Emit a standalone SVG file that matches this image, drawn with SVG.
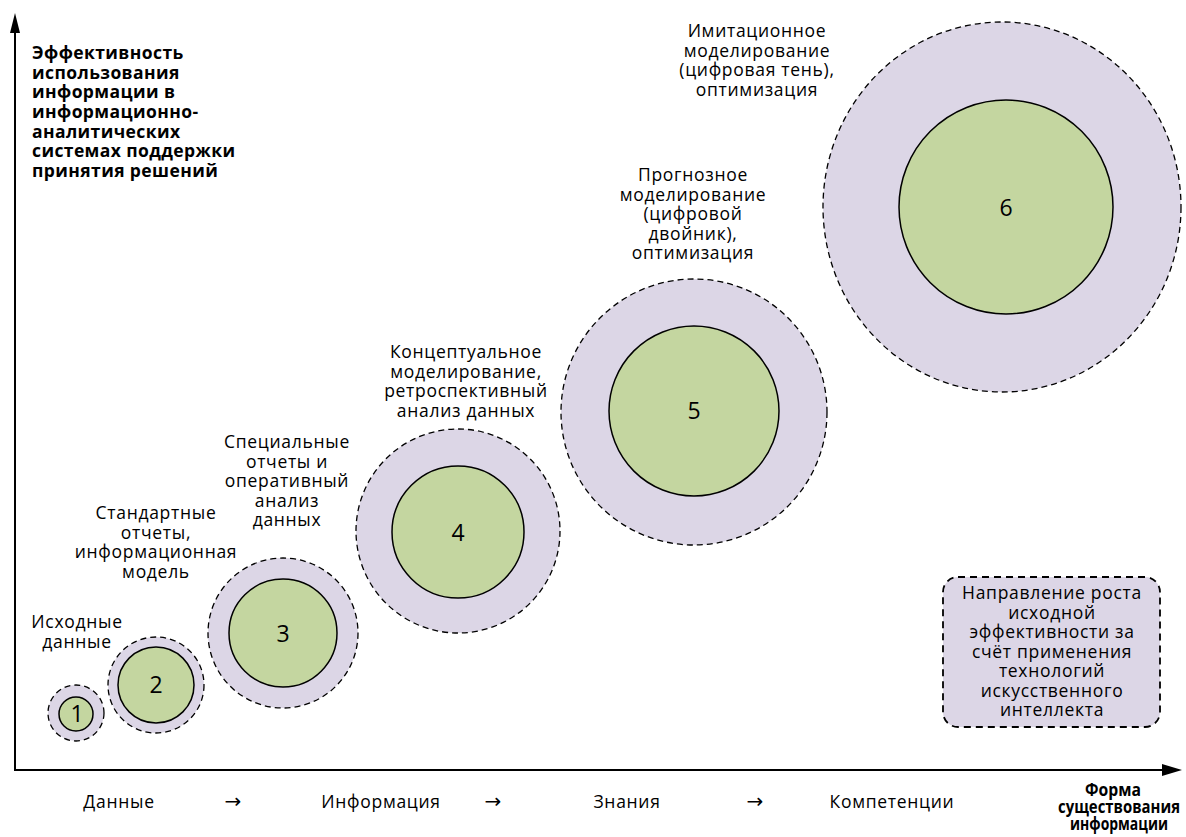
<svg xmlns="http://www.w3.org/2000/svg" width="1186" height="837" viewBox="0 0 1186 837">
<style>
text{font-family:"Open Sans","Noto Sans",sans-serif;fill:#000}
.t{font-size:17.5px;letter-spacing:0.7px;text-anchor:middle}
.b{font-size:17.5px;font-weight:bold;letter-spacing:0.4px}
.n{font-size:23px;text-anchor:middle}
.arr text{font-family:"DejaVu Sans",sans-serif;font-size:20px;text-anchor:middle}
.outer{fill:#DCD6E6;stroke:#000;stroke-width:1.3;stroke-dasharray:6 4}
.inner{fill:#C4D6A0;stroke:#000;stroke-width:1.5}
.axis{stroke:#000;stroke-width:2;fill:none}
</style>
<rect width="1186" height="837" fill="#fff"/>
<g id="axes">
<line class="axis" x1="15" y1="771" x2="15" y2="30"/>
<polygon points="15,13 10,33 20,33" fill="#000"/>
<line class="axis" x1="14" y1="770" x2="1166" y2="770"/>
<polygon points="1182,770 1162,764 1162,776" fill="#000"/>
</g>
<g id="y-label" class="b">
<text x="32" y="59">Эффективность</text>
<text x="32" y="79">использования</text>
<text x="32" y="98">информации в</text>
<text x="32" y="118">информационно-</text>
<text x="32" y="138">аналитических</text>
<text x="32" y="157">системах поддержки</text>
<text x="32" y="177">принятия решений</text>
</g>
<g id="x-categories">
<g class="t">
<text x="119" y="808">Данные</text>
<text x="381" y="808">Информация</text>
<text x="627" y="808">Знания</text>
<text x="892" y="808">Компетенции</text>
</g>
<g class="arr">
<text x="233" y="808">→</text>
<text x="493" y="808">→</text>
<text x="755" y="808">→</text>
</g>
</g>
<g id="x-label" font-size="17px" font-weight="bold" text-anchor="middle">
<text x="1113" y="796" textLength="56" lengthAdjust="spacingAndGlyphs">Форма</text>
<text x="1119" y="813" textLength="122" lengthAdjust="spacingAndGlyphs">существования</text>
<text x="1119" y="830" textLength="98" lengthAdjust="spacingAndGlyphs">информации</text>
</g>
<g id="node1">
<circle class="outer" cx="76" cy="713" r="28"/>
<circle class="inner" cx="76" cy="714" r="17"/>
<text class="n" x="77" y="722">1</text>
<g class="t"><text x="77" y="628">Исходные</text><text x="77" y="647.5">данные</text></g>
</g>
<g id="node2">
<circle class="outer" cx="156" cy="685" r="48"/>
<circle class="inner" cx="156" cy="685" r="38"/>
<text class="n" x="156" y="693">2</text>
<g class="t"><text x="156" y="519">Стандартные</text><text x="156" y="538.5">отчеты,</text><text x="156" y="558">информационная</text><text x="156" y="577.5">модель</text></g>
</g>
<g id="node3">
<circle class="outer" cx="283" cy="633" r="75"/>
<circle class="inner" cx="283" cy="633" r="54"/>
<text class="n" x="283" y="642">3</text>
<g class="t"><text x="287" y="448">Специальные</text><text x="287" y="467.5">отчеты и</text><text x="287" y="487">оперативный</text><text x="287" y="506.5">анализ</text><text x="287" y="526">данных</text></g>
</g>
<g id="node4">
<circle class="outer" cx="458" cy="531" r="102"/>
<circle class="inner" cx="458" cy="532" r="66"/>
<text class="n" x="458" y="541">4</text>
<g class="t"><text x="466" y="358">Концептуальное</text><text x="466" y="377.5">моделирование,</text><text x="466" y="397">ретроспективный</text><text x="466" y="416.5">анализ данных</text></g>
</g>
<g id="node5">
<circle class="outer" cx="694" cy="412" r="133"/>
<circle class="inner" cx="694" cy="411" r="85"/>
<text class="n" x="694" y="419">5</text>
<g class="t"><text x="693" y="181">Прогнозное</text><text x="693" y="200.5">моделирование</text><text x="693" y="220">(цифровой</text><text x="693" y="239.5">двойник),</text><text x="693" y="259">оптимизация</text></g>
</g>
<g id="node6">
<ellipse class="outer" cx="1002" cy="207" rx="179" ry="185"/>
<circle class="inner" cx="1006" cy="207" r="107"/>
<text class="n" x="1006" y="216">6</text>
<g class="t"><text x="757" y="37">Имитационное</text><text x="757" y="56.5">моделирование</text><text x="757" y="76">(цифровая тень),</text><text x="757" y="95.5">оптимизация</text></g>
</g>
<g id="note">
<rect x="943" y="577" width="217" height="150" rx="15" ry="15" fill="#DCD6E6" stroke="#000" stroke-width="1.8" stroke-dasharray="7 5"/>
<g class="t">
<text x="1052" y="599">Направление роста</text>
<text x="1052" y="618.5">исходной</text>
<text x="1052" y="638">эффективности за</text>
<text x="1052" y="657.5">счёт применения</text>
<text x="1052" y="677">технологий</text>
<text x="1052" y="696.5">искусственного</text>
<text x="1052" y="716">интеллекта</text>
</g>
</g>
</svg>
